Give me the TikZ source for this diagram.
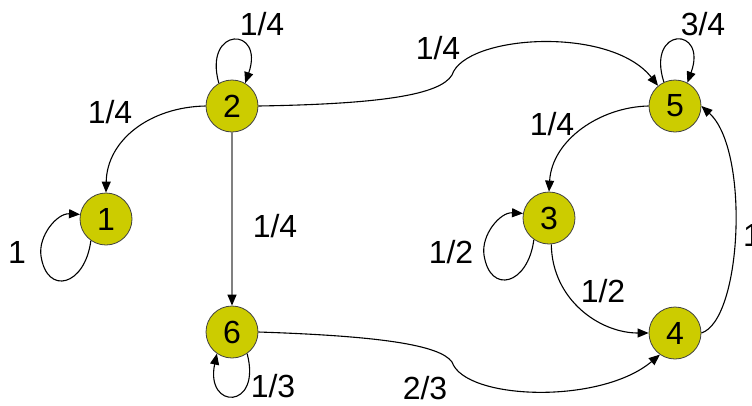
\documentclass[tikz,border=0pt]{standalone}
\usepackage{fontspec}
\setmainfont{Liberation Sans}
\usetikzlibrary{arrows.meta,calc}
\definecolor{nodefill}{RGB}{204,204,0}
\begin{document}
\begin{tikzpicture}[x=1pt,y=-1pt,
  state/.style={circle,draw=black!75,line width=0.8pt,fill=nodefill,minimum size=52pt,inner sep=0pt,font=\fontsize{32}{34}\selectfont},
  edge/.style={draw=black,line width=1.1pt,-{Triangle[length=11pt,width=9pt]}},
  grayedge/.style={draw=black!50,line width=1.3pt,-{Triangle[length=11pt,width=9pt,color=black]}},
  lbl/.style={font=\fontsize{32}{34}\selectfont,inner sep=0pt}]
\useasboundingbox (0,0) rectangle (752,405);
% nodes
\node[state] (n1) at (106,219) {1};
\node[state] (n2) at (232,106) {2};
\node[state] (n3) at (549,218) {3};
\node[state] (n4) at (675,333) {4};
\node[state] (n5) at (675,106) {5};
\node[state] (n6) at (232,332) {6};
% edges
\draw[edge] (n2.west) .. controls (150,107) and (107,140) .. (n1.north);
\draw[edge] (n2.120) .. controls ([shift={(-29,-80)}]n2.center) and ([shift={(33,-80)}]n2.center) .. (n2.60);
\draw[grayedge] (n2.south) -- (n6.north);
\draw[edge] (n2.east) .. controls (380,104) and (440,95) .. (452,75) .. controls (465,35) and (610,25) .. (n5.130);
\draw[edge] (n5.115) .. controls ([shift={(-29,-80)}]n5.center) and ([shift={(33,-80)}]n5.center) .. (n5.62);
\draw[edge] (n5.west) .. controls (600,107) and (552,140) .. (n3.north);
\draw[edge] (n3.235) .. controls ([shift={(-21,67)}]n3.center) and ([shift={(-59,77)}]n3.center) .. ([shift={(-65,37)}]n3.center) .. controls ([shift={(-68,17)}]n3.center) and ([shift={(-49,-6)}]n3.center) .. (n3.170);
\draw[edge] (n1.235) .. controls ([shift={(-21,67)}]n1.center) and ([shift={(-59,77)}]n1.center) .. ([shift={(-65,37)}]n1.center) .. controls ([shift={(-68,17)}]n1.center) and ([shift={(-49,-6)}]n1.center) .. (n1.170);
\draw[edge] (n3.275) .. controls (552,300) and (600,333) .. (n4.west);
\draw[edge] (n4.east) .. controls (742,320) and (750,150) .. (n5.east);
\draw[edge] (n6.east) .. controls (380,336) and (440,345) .. (452,362) .. controls (465,400) and (600,405) .. (n4.235);
\draw[edge] (n6.305) .. controls (262,410) and (205,410) .. (n6.235);
% labels
\node[lbl] (l21) at (110,112) {1/4};
\node[lbl] (l22) at (262,24) {1/4};
\node[lbl] (l26) at (275,226) {1/4};
\node[lbl] (l11) at (17,252) {1};
\node[lbl] (l66) at (273,386) {1/3};
\node[lbl] (l25) at (438,48) {1/4};
\node[lbl] (l55) at (703,24) {3/4};
\node[lbl] (l53) at (552,124) {1/4};
\node[lbl] (l33) at (451,252) {1/2};
\node[lbl] (l34) at (603,291) {1/2};
\node[lbl] (l64) at (425,388) {2/3};
\node[lbl,anchor=west] (l45) at (743,235) {1};
\end{tikzpicture}
\end{document}
